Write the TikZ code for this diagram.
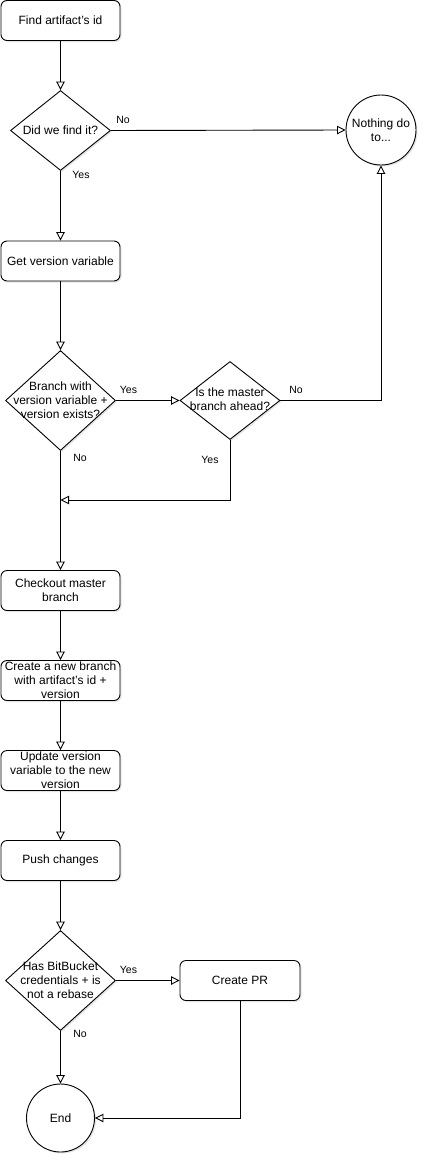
\documentclass[tikz,border=0pt]{standalone}
\usepackage{fontspec}
\setmainfont{Liberation Sans}
\usetikzlibrary{arrows.meta,shapes.geometric,shadows}
\tikzset{
  base/.style={draw=black, line width=0.9pt, fill=white, drop shadow={shadow xshift=1.5pt, shadow yshift=-1.5pt, opacity=0.18, fill=gray!80!blue}},
  proc/.style={base, rectangle, rounded corners=6pt, minimum width=119pt, minimum height=40pt, align=center, inner sep=1pt, font=\fontsize{12}{14}\selectfont},
  dia/.style={base, diamond, inner sep=0pt},
  circ/.style={base, circle, inner sep=0pt, align=center, font=\fontsize{12}{14}\selectfont},
  txt/.style={align=center, inner sep=0pt, font=\fontsize{12}{14}\selectfont},
  lbl/.style={inner sep=0pt, font=\fontsize{10.5}{12}\selectfont},
  conn/.style={line width=0.9pt, -{Triangle[open, length=8.5pt, width=8.5pt]}}
}
\begin{document}
\begin{tikzpicture}[x=1pt,y=-1pt]
\useasboundingbox (0,0) rectangle (427,1162);
% nodes
\node[proc] (b1) at (60.5,20.5) {Find artifact's id};
\node[dia, minimum width=100pt, minimum height=80pt] (d1) at (60.5,130.5) {};
\node[txt] (d1t) at (d1) {Did we find it?};
\node[circ, minimum size=70pt] (nd) at (381,130) {Nothing do\\to...};
\node[proc] (b2) at (60.5,261) {Get version variable};
\node[dia, minimum width=110pt, minimum height=100pt] (d2) at (60.5,400.5) {};
\node[txt] (d2t) at (d2) {Branch with\\version variable +\\version exists?};
\node[dia, minimum width=100pt, minimum height=78pt] (d3) at (230,400.5) {};
\node[txt] (d3t) at (230,399) {Is the master\\branch ahead?};
\coordinate (j) at (60.5,500);
\node[proc] (b3) at (60.5,590.5) {Checkout master\\branch};
\node[proc] (b4) at (60.5,680.5) {Create a new branch\\with artifact's id +\\version};
\node[proc] (b5) at (60.5,770.5) {Update version\\variable to the new\\version};
\node[proc] (b6) at (60.5,860.5) {Push changes};
\node[dia, minimum width=110pt, minimum height=100pt] (d4) at (60.5,980.5) {};
\node[txt] (d4t) at (d4) {Has BitBucket\\credentials + is\\not a rebase};
\node[proc, minimum width=120pt] (pr) at (240,980.5) {Create PR};
\node[circ, minimum size=68pt] (en) at (60.5,1118) {End};
% connectors
\draw[conn] (b1.south) -- (d1.north);
\draw[conn] (d1.east) -- (nd.west);
\draw[conn] (d1.south) -- (b2.north);
\draw[conn] (b2.south) -- (d2.north);
\draw[conn] (d2.east) -- (d3.west);
\draw[conn] (d3.east) -| (nd.south);
\draw[conn] (d3.south) |- (j);
\draw[conn] (d2.south) -- (b3.north);
\draw[conn] (b3.south) -- (b4.north);
\draw[conn] (b4.south) -- (b5.north);
\draw[conn] (b5.south) -- (b6.north);
\draw[conn] (b6.south) -- (d4.north);
\draw[conn] (d4.east) -- (pr.west);
\draw[conn] (d4.south) -- (en.north);
\draw[conn] (pr.south) |- (en.east);
% labels
\node[lbl] (l1) at (123,120) {No};
\node[lbl] (l2) at (81,175) {Yes};
\node[lbl] (l3) at (128.5,390) {Yes};
\node[lbl] (l4) at (296,390) {No};
\node[lbl] (l5) at (80,458) {No};
\node[lbl] (l6) at (210,460) {Yes};
\node[lbl] (l7) at (128.5,970) {Yes};
\node[lbl] (l8) at (80,1034) {No};
\end{tikzpicture}
\end{document}
